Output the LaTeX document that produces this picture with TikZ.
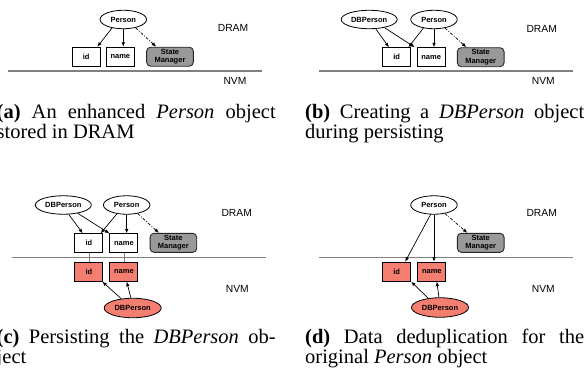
\documentclass[tikz,border=0pt]{standalone}
\usepackage{fontspec}
\setmainfont{Liberation Serif}
\newfontfamily\dsans{Liberation Sans}
\usetikzlibrary{shapes.geometric,arrows.meta,calc}
\definecolor{smgray}{RGB}{153,153,153}
\definecolor{nvmred}{RGB}{244,126,112}
\definecolor{sepgray}{RGB}{128,128,128}
\tikzset{
  lbl/.style={font=\dsans\bfseries\fontsize{7.5}{8.6}\selectfont},
  box/.style={lbl, draw=black, line width=0.9pt, fill=white, minimum width=28pt, minimum height=19pt, inner sep=0pt},
  redbox/.style={box, fill=nvmred},
  smbox/.style={lbl, draw=black!85, line width=0.9pt, fill=smgray, rounded corners=4pt, minimum width=46.7pt, minimum height=19pt, inner sep=0pt, align=center},
  obj/.style={lbl, ellipse, draw=black, line width=0.8pt, fill=white, minimum width=46.5pt, minimum height=18.5pt, inner sep=0pt},
  dbobj/.style={obj, minimum width=56pt},
  redobj/.style={dbobj, fill=nvmred, minimum width=57pt, minimum height=19.5pt},
  arr/.style={-{Latex[length=4.5pt,width=3.6pt]}, line width=0.7pt},
  darr/.style={arr, dash pattern=on 3pt off 1.6pt on 0.9pt off 1.6pt},
  sepline/.style={draw=sepgray, line width=1.3pt},
  link/.style={draw=sepgray, line width=0.8pt},
  mem/.style={font=\dsans\fontsize{10.3}{12}\selectfont, inner sep=0pt},
  capt/.style={anchor=base west, inner sep=0pt, font=\fontsize{20.5}{20}\selectfont}
}
\begin{document}
\begin{tikzpicture}[x=1pt,y=-1pt]
\useasboundingbox (0,0) rectangle (587,388);
% ---------- panel (a)
\coordinate (sa1) at (8.3,71); \coordinate (sa2) at (261.7,71);
\draw[sepline] (sa1) -- (sa2);
\node[obj] (pa) at (123.3,19.5) {Person};
\node[box] (ida) at (86.2,56.7) {id};
\node[box] (namea) at (120.3,56.7) {name};
\node[smbox] (sma) at (170,56.7) {State\\Manager};
\node[mem] (drama) at (233,28) {DRAM};
\node[mem] (nvma) at (235,81) {NVM};
\draw[arr] (pa.217) -- ([xshift=-3.3pt]ida.north east);
\draw[arr] (pa.south) -- (pa.south |- namea.north);
\draw[darr] (pa.326) -- ([xshift=10pt]sma.north west);
% ---------- panel (b)
\coordinate (sb1) at (319,71); \coordinate (sb2) at (572.7,71);
\draw[sepline] (sb1) -- (sb2);
\node[dbobj] (dbb) at (369.2,19.5) {DBPerson};
\node[obj] (pb) at (434,19.5) {Person};
\node[box] (idb) at (396.7,57.2) {id};
\node[box] (nameb) at (431.2,57.2) {name};
\node[smbox] (smb) at (480.7,57.2) {State\\Manager};
\node[mem] (dramb) at (541.7,29.3) {DRAM};
\node[mem] (nvmb) at (543.3,81) {NVM};
\draw[arr] (dbb.305) -- ([xshift=6.7pt]idb.north west);
\draw[arr] (dbb.332) -- ([xshift=-2pt]nameb.north west);
\draw[arr] (pb.219) -- ([xshift=-2.7pt]idb.north east);
\draw[arr] (pb.south) -- (pb.south |- nameb.north);
\draw[darr] (pb.322) -- ([xshift=9.4pt]smb.north west);
% ---------- panel (c)
\coordinate (sc1) at (11.7,257.3); \coordinate (sc2) at (265.7,257.3);
\node[dbobj] (dbc) at (63.3,205) {DBPerson};
\node[obj] (pc) at (126.7,205) {Person};
\node[box] (idc) at (88.9,243.3) {id};
\node[box] (namec) at (123.9,243.3) {name};
\node[smbox] (smc) at (173.4,242.8) {State\\Manager};
\node[redbox] (idrc) at (88.9,271.7) {id};
\node[redbox] (namerc) at (123.9,271.7) {name};
\node[redobj] (dbrc) at (132.7,308) {DBPerson};
\node[mem] (dramc) at (236.7,213.3) {DRAM};
\node[mem] (nvmc) at (237.3,289) {NVM};
\draw[link] (idc.south) -- (idrc.north);
\draw[link] (namec.south) -- (namerc.north);
\draw[sepline] (sc1) -- (sc2);
\draw[arr] (dbc.300) -- ([xshift=8.3pt]idc.north west);
\draw[arr] (dbc.330) -- (namec.north west);
\draw[arr] (pc.222) -- ([xshift=-2.7pt]idc.north east);
\draw[arr] (pc.south) -- (pc.south |- namec.north);
\draw[darr] (pc.322) -- ([xshift=9.3pt]smc.north west);
\draw[arr] (dbrc.141) -- ([xshift=-1pt]idrc.south east);
\draw[arr] (dbrc.100) -- ([xshift=2.8pt]namerc.south);
% ---------- panel (d)
\coordinate (sd1) at (319,257.3); \coordinate (sd2) at (572.7,257.3);
\draw[sepline] (sd1) -- (sd2);
\node[obj] (pd) at (434,205) {Person};
\node[smbox] (smd) at (480.7,242.8) {State\\Manager};
\node[redbox] (idd) at (396.7,271.7) {id};
\node[redbox] (named) at (431.8,271.7) {name};
\node[redobj] (dbrd) at (440,307.5) {DBPerson};
\node[mem] (dramd) at (541.7,213.3) {DRAM};
\node[mem] (nvmd) at (543.3,289) {NVM};
\draw[arr] (pd.250) -- ([xshift=-6pt]idd.north east);
\draw[arr] (pd.south) -- (pd.south |- named.north);
\draw[darr] (pd.322) -- ([xshift=10.4pt]smd.north west);
\draw[arr] (dbrd.142) -- (idd.south east);
\draw[arr] (dbrd.96) -- ([xshift=5pt]named.south);
% ---------- captions
\node[capt] (capa) at (-3.5,118) {\parbox[t]{279pt}{\tolerance=10000\textbf{(a)} An enhanced \textit{Person} object\linebreak stored in DRAM}};
\node[capt] (capb) at (305,118) {\parbox[t]{279pt}{\tolerance=10000\textbf{(b)} Creating a \textit{DBPerson} object\linebreak during persisting}};
\node[capt] (capc) at (-3.5,343) {\parbox[t]{279pt}{\tolerance=10000\textbf{(c)} Persisting the \textit{DBPerson} ob-\linebreak ject}};
\node[capt] (capd) at (305,343) {\parbox[t]{279pt}{\tolerance=10000\textbf{(d)} Data deduplication for the\linebreak original \textit{Person} object}};
\end{tikzpicture}
\end{document}
